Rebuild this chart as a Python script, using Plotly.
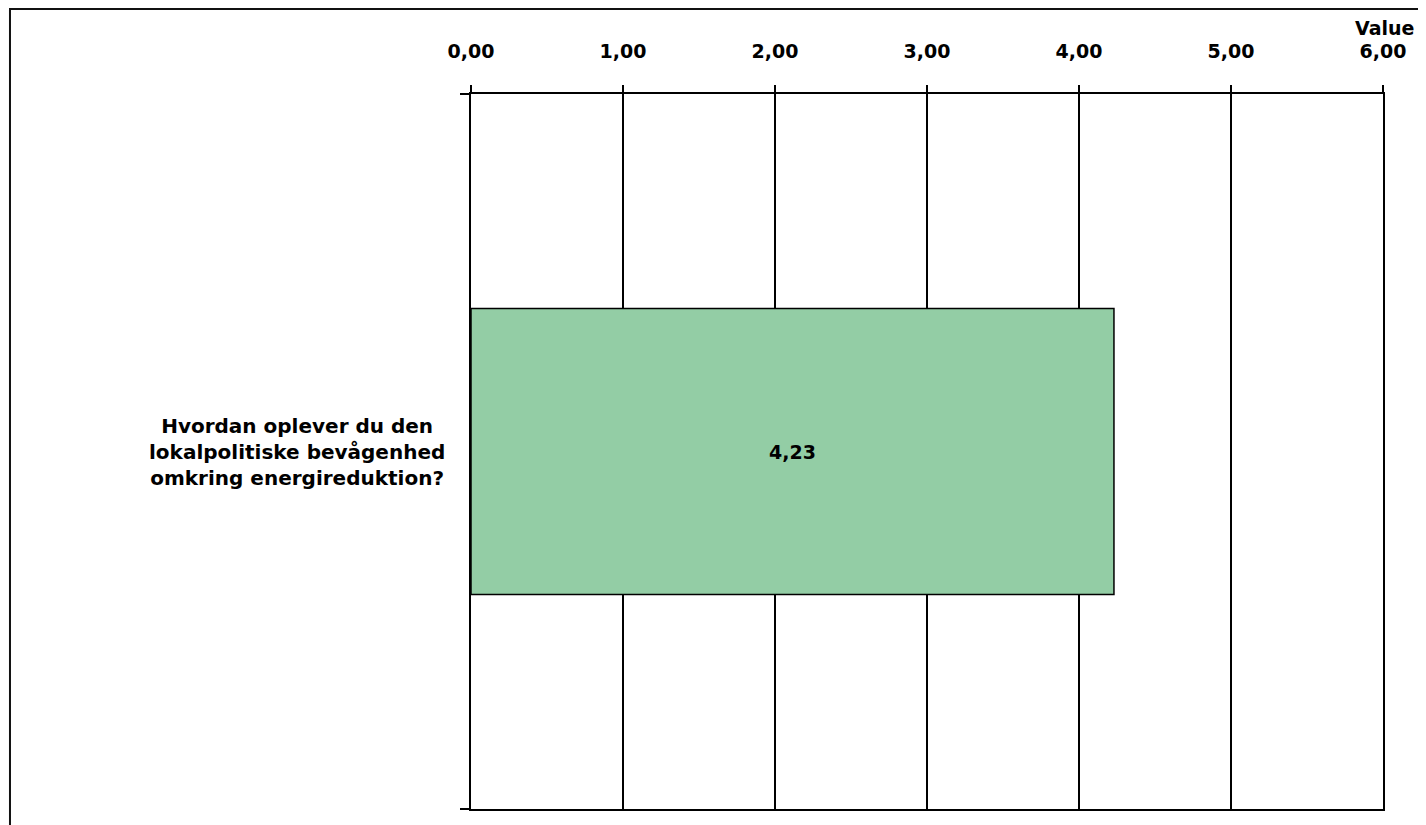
import plotly.graph_objects as go

categories = ["Hvordan oplever du den<br>lokalpolitiske bevågenhed<br>omkring energireduktion?"]
values = [4.23]
tick_values = [0, 1, 2, 3, 4, 5, 6]
tick_labels = ["0,00", "1,00", "2,00", "3,00", "4,00", "5,00", "6,00"]
axis_title = "Value"

FONT = dict(family="DejaVu Sans", size=19, color="black", weight="bold")
LABEL_FONT = dict(family="DejaVu Sans", size=20, color="black", weight="bold")

bar_text = [f"{v:.2f}".replace(".", ",") for v in values]

fig = go.Figure()
fig.add_trace(go.Bar(
    x=values,
    y=categories,
    orientation="h",
    width=0.4,
    marker=dict(color="#93CDA5", line=dict(color="black", width=1.5)),
    text=bar_text,
    textposition="inside",
    insidetextanchor="middle",
    textangle=0,
    textfont=FONT,
    hoverinfo="skip",
))

fig.update_layout(
    width=1418,
    height=817,
    margin=dict(l=463, r=43, t=86, b=16),
    paper_bgcolor="white",
    plot_bgcolor="white",
    showlegend=False,
    font=FONT,
    xaxis=dict(
        side="top",
        range=[0, 6],
        tickvals=tick_values,
        ticktext=tick_labels,
        showgrid=True,
        gridcolor="black",
        gridwidth=1.5,
        zeroline=False,
        showline=True,
        linecolor="black",
        linewidth=1.5,
        mirror=True,
        ticks="outside",
        ticklen=7,
        tickwidth=1.5,
        tickcolor="black",
        ticklabelstandoff=20,
        tickfont=FONT,
        fixedrange=True,
    ),
    yaxis=dict(
        type="category",
        tickson="boundaries",
        ticks="outside",
        ticklen=9,
        tickwidth=1.5,
        tickcolor="black",
        showticklabels=False,
        showgrid=False,
        zeroline=False,
        showline=True,
        linecolor="black",
        linewidth=1.5,
        mirror=True,
        fixedrange=True,
    ),
)

# category label, centred lines, right edge near the axis
for cat in categories:
    fig.add_annotation(
        x=-0.026, xref="paper", y=cat, yref="y",
        text=cat, showarrow=False, xanchor="right", yanchor="middle",
        align="center", font=LABEL_FONT,
    )

# axis title at top right
fig.add_annotation(
    x=1.036, xref="paper", y=1.093, yref="paper",
    text=axis_title, showarrow=False, xanchor="right", yanchor="middle",
    font=FONT,
)

# outer frame
fig.add_shape(
    type="rect", xref="paper", yref="paper",
    x0=-0.5055, y0=-0.2, x1=1.2, y1=1.1189,
    line=dict(color="#111111", width=2), fillcolor="rgba(0,0,0,0)",
    layer="below",
)

fig.write_html("out.html")
